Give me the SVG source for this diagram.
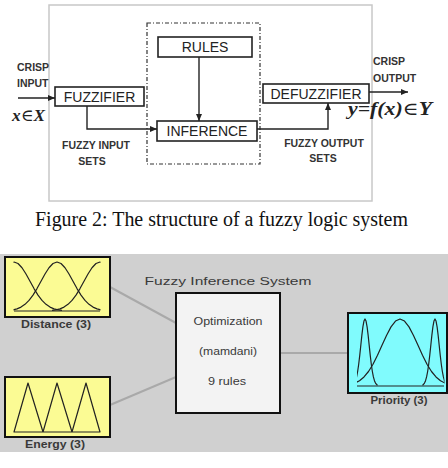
<svg xmlns="http://www.w3.org/2000/svg" xmlns:xlink="http://www.w3.org/1999/xlink" width="448" height="468" viewBox="0 0 448 468">
<style>
.blk{fill:#fff;stroke:#222;stroke-width:1.6}
.lbl{font-family:"Liberation Sans",Arial,sans-serif;font-size:14px;fill:#222;text-anchor:middle}
.sm{font-family:"Liberation Sans",Arial,sans-serif;font-size:10.5px;font-weight:bold;fill:#333}
.math{font-family:"Liberation Serif","Times New Roman",serif;font-style:italic;font-weight:bold;fill:#222}
.el{font-family:"DejaVu Serif",serif;font-style:normal;font-weight:normal}
.wire{fill:none;stroke:#222;stroke-width:1.4}
.fis{stroke:#111;stroke-width:2}
.ft{font-family:"Liberation Sans",Arial,sans-serif;font-size:10px;fill:#3a3a3a;text-anchor:middle}
.gw{stroke:#a9a9a9;stroke-width:2;fill:none}
.mf{fill:none;stroke:#222;stroke-width:1.2;stroke-linejoin:round}
</style>
<defs>
<marker id="ah" markerWidth="7" markerHeight="6" refX="7" refY="3" orient="auto" markerUnits="userSpaceOnUse">
<path d="M0,0 L7,3 L0,6 z" fill="#222"/>
</marker>
<path id="g" vector-effect="non-scaling-stroke" d="M-3,-0.0111 L-2.75,-0.0228 L-2.5,-0.0439 L-2.25,-0.0796 L-2,-0.1353 L-1.75,-0.2163 L-1.5,-0.3247 L-1.25,-0.4578 L-1,-0.6065 L-0.75,-0.7548 L-0.5,-0.8825 L-0.25,-0.9692 L0,-1 L0.25,-0.9692 L0.5,-0.8825 L0.75,-0.7548 L1,-0.6065 L1.25,-0.4578 L1.5,-0.3247 L1.75,-0.2163 L2,-0.1353 L2.25,-0.0796 L2.5,-0.0439 L2.75,-0.0228 L3,-0.0111"/>
<clipPath id="cd"><rect x="13.5" y="255" width="87" height="60"/></clipPath>
<clipPath id="cp"><rect x="357" y="314" width="87.5" height="76"/></clipPath>
</defs>
<rect width="448" height="468" fill="#fff"/>

<!-- top figure -->
<rect x="49" y="5" width="323" height="196" fill="#fff" stroke="#c8c8c8" stroke-width="1.5"/>
<rect id="inference-engine" x="147" y="23" width="113" height="141" fill="none" stroke="#333" stroke-width="1.2" stroke-dasharray="4 2 1 2"/>

<g id="connectors-top">
<path class="wire" d="M18,98 H55" marker-end="url(#ah)"/>
<path class="wire" d="M87,106 V129 H157" marker-end="url(#ah)"/>
<path class="wire" d="M199,57 V121" marker-end="url(#ah)"/>
<path class="wire" d="M257,129 H328 V103" marker-end="url(#ah)"/>
<path class="wire" d="M369,92 H408" marker-end="url(#ah)"/>
</g>

<g id="rules"><rect class="blk" x="158" y="37" width="94" height="20"/><text class="lbl" x="205" y="52">RULES</text></g>
<g id="fuzzifier"><rect class="blk" x="55" y="87" width="89" height="19"/><text class="lbl" x="99.5" y="101.5">FUZZIFIER</text></g>
<g id="inference"><rect class="blk" x="157" y="121" width="100" height="20"/><text class="lbl" x="207" y="136">INFERENCE</text></g>
<g id="defuzzifier"><rect class="blk" x="263" y="84" width="106" height="19"/><text class="lbl" x="316" y="98.5">DEFUZZIFIER</text></g>

<g id="labels-top">
<text class="sm" x="17" y="71">CRISP</text>
<text class="sm" x="17" y="87">INPUT</text>
<text class="math" x="12" y="121" font-size="17" textLength="33" lengthAdjust="spacingAndGlyphs">x<tspan class="el">∈</tspan>X</text>
<text class="sm" x="96" y="149" text-anchor="middle">FUZZY INPUT</text>
<text class="sm" x="92" y="165" text-anchor="middle">SETS</text>
<text class="sm" x="324" y="147" text-anchor="middle">FUZZY OUTPUT</text>
<text class="sm" x="323" y="162" text-anchor="middle">SETS</text>
<text class="sm" x="373" y="65">CRISP</text>
<text class="sm" x="373" y="82">OUTPUT</text>
<text class="math" x="348" y="115" font-size="18" textLength="84" lengthAdjust="spacingAndGlyphs">y=f(x)<tspan class="el">∈</tspan>Y</text>
</g>

<text x="35" y="226" font-family="'Liberation Serif','Times New Roman',serif" font-size="20" fill="#111" textLength="373" lengthAdjust="spacingAndGlyphs">Figure 2: The structure of a fuzzy logic system</text>

<!-- bottom figure -->
<rect x="0" y="254" width="448" height="198" fill="#d0d0d0"/>

<g id="connectors-bottom">
<path class="gw" d="M110,287 L176,323"/>
<path class="gw" d="M110,405 L176,377"/>
<path class="gw" d="M281,353 H348"/>
</g>

<g id="distance">
<rect class="fis" x="5" y="257" width="105" height="60" fill="#fbfb94"/>
<g clip-path="url(#cd)" class="mf">
<use xlink:href="#g" href="#g" transform="translate(14,311) scale(16,49)"/>
<use xlink:href="#g" href="#g" transform="translate(57,311) scale(16,49)"/>
<use xlink:href="#g" href="#g" transform="translate(100,311) scale(16,49)"/>
</g>
<path class="mf" d="M14,311 H100"/>
<text class="ft" x="56" y="328" font-weight="bold" textLength="70" lengthAdjust="spacingAndGlyphs">Distance (3)</text>
</g>

<g id="energy">
<rect class="fis" x="5" y="377" width="105" height="60" fill="#fbfb94"/>
<path class="mf" d="M14,432 L28,383 L43,432 L57,383 L72,432 L86,383 L100,432 Z"/>
<text class="ft" x="55" y="448" font-weight="bold" textLength="60" lengthAdjust="spacingAndGlyphs">Energy (3)</text>
</g>

<g id="fis">
<text class="ft" x="228" y="285" font-size="12" textLength="167" lengthAdjust="spacingAndGlyphs">Fuzzy Inference System</text>
<rect class="fis" x="176" y="293" width="104" height="120" fill="#f3f3f3"/>
<text class="ft" x="228" y="325" textLength="69" lengthAdjust="spacingAndGlyphs">Optimization</text>
<text class="ft" x="228" y="355" textLength="58" lengthAdjust="spacingAndGlyphs">(mamdani)</text>
<text class="ft" x="227" y="385" textLength="38" lengthAdjust="spacingAndGlyphs">9 rules</text>
</g>

<g id="priority">
<rect class="fis" x="348" y="313" width="99" height="80" fill="#80fbfd"/>
<g clip-path="url(#cp)" class="mf">
<use xlink:href="#g" href="#g" transform="translate(365,386) scale(4.2,67)"/>
<use xlink:href="#g" href="#g" transform="translate(400,386) scale(18,67)"/>
<use xlink:href="#g" href="#g" transform="translate(435,386) scale(4.2,67)"/>
</g>
<path class="mf" d="M357,386 H444"/>
<text class="ft" x="399" y="404" font-weight="bold" textLength="57" lengthAdjust="spacingAndGlyphs">Priority (3)</text>
</g>
</svg>
